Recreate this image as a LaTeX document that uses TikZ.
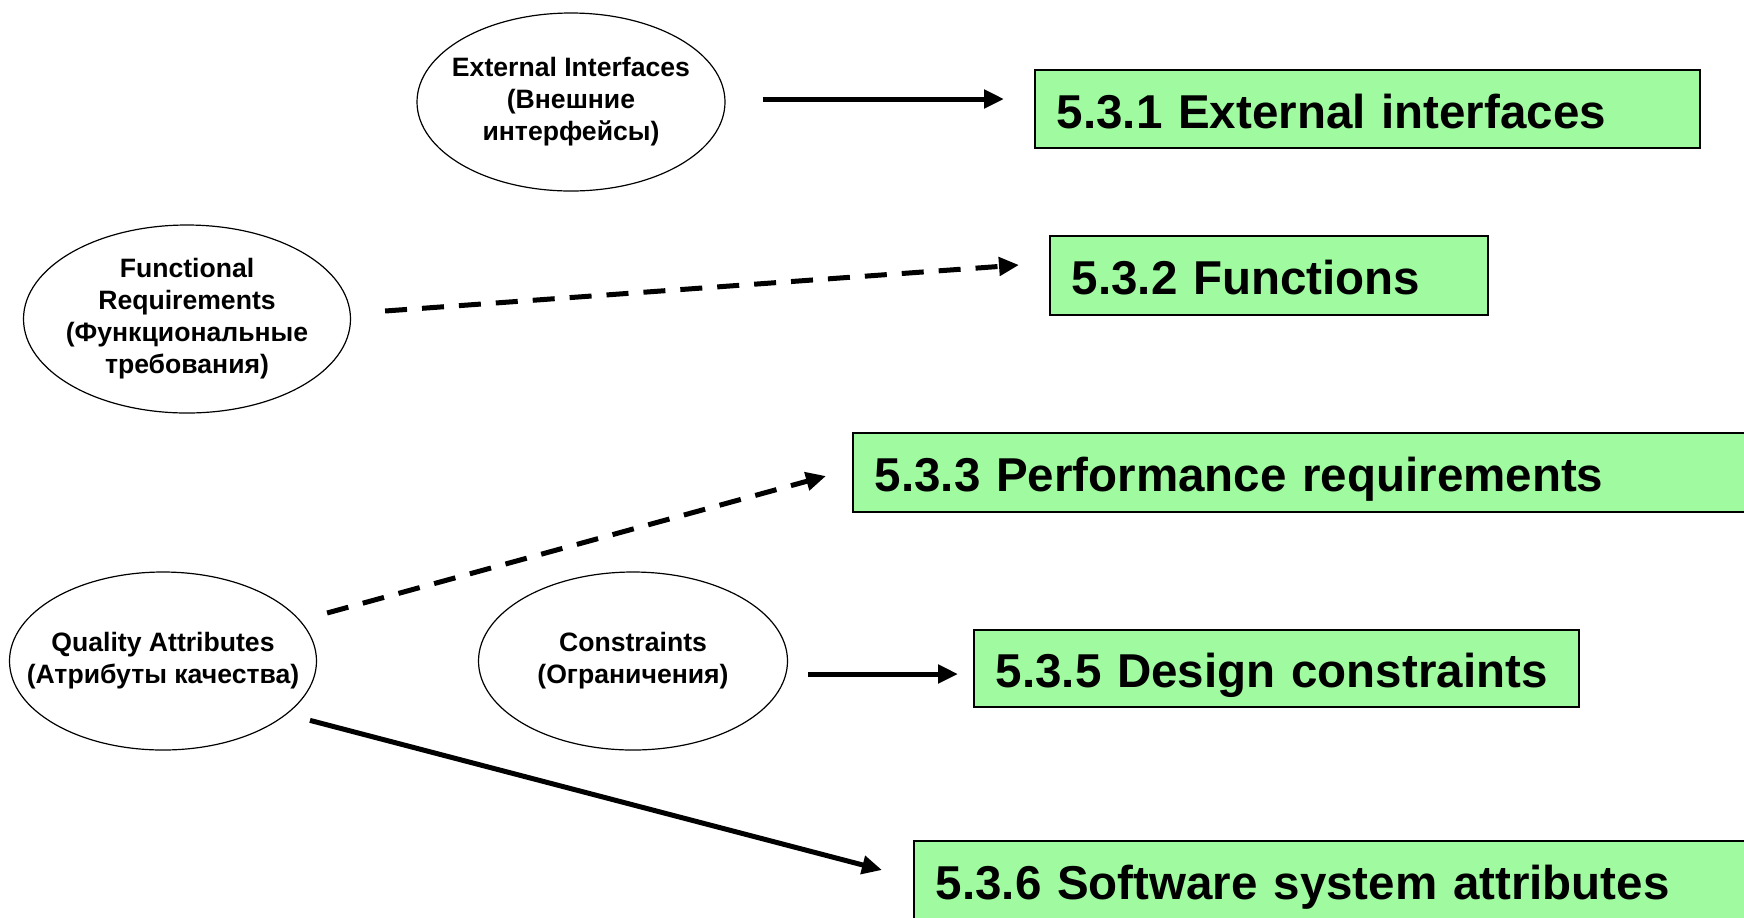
\documentclass[tikz,border=0pt]{standalone}
\usepackage{fontspec}
\setmainfont{Liberation Sans}
\usetikzlibrary{shapes.geometric,arrows.meta}
\definecolor{boxgreen}{RGB}{160,250,160}

\begin{document}
\begin{tikzpicture}[x=0.5pt,y=-0.5pt,
	oval/.style={ellipse,draw,line width=0.6pt,align=center,inner xsep=-30pt,inner ysep=0pt,font=\bfseries\fontsize{13.3}{16}\selectfont},
	sect/.style={rectangle,draw,line width=0.8pt,fill=boxgreen,anchor=west,align=left,inner xsep=11pt,inner ysep=0pt,text height=22pt,text depth=2.8pt,font=\bfseries\fontsize{23.75}{28}\selectfont},
	arr/.style={line width=2.5pt,-{Triangle[length=10pt,width=9pt]}},
	dsh/.style={arr,dash pattern=on 11pt off 7.5pt}]
	\useasboundingbox (0,0) rectangle (1744,917);
	\clip (0,0) rectangle (1744,917);

	\node[oval,minimum width=154pt,minimum height=89pt] (ext) at (571,102) {External Interfaces\\(Внешние\\интерфейсы)};
	\node[oval,minimum width=163.5pt,minimum height=94pt] (func) at (187,319) {Functional\\Requirements\\(Функциональные\\требования)};
	\node[oval,minimum width=153.5pt,minimum height=89pt] (qual) at (163,661) {Quality Attributes\\(Атрибуты качества)};
	\node[oval,minimum width=154.5pt,minimum height=89pt] (cons) at (633,661) {Constraints\\(Ограничения)};

	\node[sect,text width=310.5pt,minimum height=39pt] (s1) at (1034,109) {5.3.1 External interfaces};
	\node[sect,text width=197pt,minimum height=39.5pt] (s2) at (1049,275.5) {5.3.2 Functions};
	\node[sect,text width=480pt,minimum height=39.5pt] (s3) at (852,472.5) {5.3.3 Performance requirements};
	\node[sect,text width=280.5pt,minimum height=38.5pt] (s5) at (973,668.5) {5.3.5 Design constraints};
	\node[sect,text width=480pt,minimum height=39.5pt] (s6) at (913,880.5) {5.3.6 Software system attributes};

	\draw[arr] ([xshift=18.5pt,yshift=1.5pt]ext.east) -- ([xshift=-15pt,yshift=5pt]s1.west);
	\draw[dsh] ([xshift=17pt,yshift=4pt]func.east) -- ([xshift=-15pt,yshift=5.25pt]s2.west);
	\draw[dsh] ([xshift=5pt,yshift=24pt]qual.east) -- ([xshift=-13pt,yshift=-1.75pt]s3.west);
	\draw[arr] ([xshift=10pt,yshift=-6.5pt]cons.east) -- ([xshift=-7.5pt,yshift=-2.75pt]s5.west);
	\draw[arr] ([xshift=19pt,yshift=2pt]qual.south east) -- ([xshift=-15.5pt,yshift=5.25pt]s6.west);
\end{tikzpicture}
\end{document}
